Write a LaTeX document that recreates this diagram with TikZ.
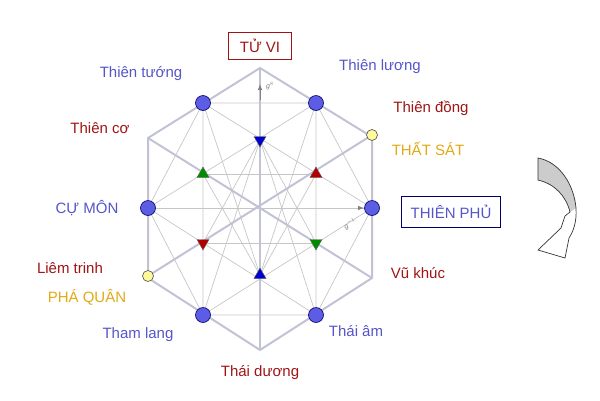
\documentclass[tikz,border=0pt]{standalone}
\usepackage{fontspec}
\setmainfont{Liberation Sans}
\usetikzlibrary{shapes.geometric}
\definecolor{lblue}{RGB}{85,85,200}
\definecolor{lred}{RGB}{160,20,20}
\definecolor{lgold}{RGB}{225,170,20}
\begin{document}
\begin{tikzpicture}[x=1pt,y=-1pt,
 thick line/.style={draw=blue!20!gray!40,line width=2pt},
 thin line/.style={draw=gray!45,line width=0.7pt},
 bdot/.style={circle,draw=blue!40!black,fill=blue!60!white!90!black,minimum size=15pt,inner sep=0,line width=0.6pt},
 ydot/.style={circle,draw=black!70,fill=yellow!40,minimum size=11pt,inner sep=0,line width=0.6pt},
 tri/.style={regular polygon,regular polygon sides=3,minimum size=14pt,inner sep=0,draw=black!60,line width=0.4pt},
 lb/.style={text=lblue,font=\fontsize{15}{17}\selectfont},
 lr/.style={text=lred,font=\fontsize{15}{17}\selectfont},
 ly/.style={text=lgold,font=\fontsize{15}{17}\selectfont}]
\useasboundingbox (0,0) rectangle (600,400);
\coordinate (T) at (260,68); \coordinate (UR) at (372,137); \coordinate (LR) at (372,278);
\coordinate (B) at (260,350); \coordinate (LL) at (148,278); \coordinate (UL) at (148,138);
\coordinate (c1) at (203,103); \coordinate (c2) at (316,103); \coordinate (c3) at (372,208);
\coordinate (c4) at (316,315); \coordinate (c5) at (203,315); \coordinate (c6) at (148,208);
\coordinate (t1) at (260,140); \coordinate (t2) at (260,275);
\coordinate (g1) at (203,174); \coordinate (r1) at (316,174);
\coordinate (r2) at (203,243); \coordinate (g2) at (316,243);
% thin lines
\draw[thin line] (c1)--(c2)--(c3)--(c4)--(c5)--(c6)--cycle;
\draw[thin line] (c1)--(c3)--(c5)--cycle;
\draw[thin line] (c2)--(c6)--(c4)--cycle;
\draw[thin line] (c6)--(c3);
\draw[thin line] (g1)--(r1) (r2)--(g2);
\draw[thin line] (c1)--(t2)--(c2) (c5)--(t1)--(c4);
\draw[thin line] (t1)--(g2) (t1)--(r2) (t2)--(g1) (t2)--(r1);
% thick lines
\draw[thick line] (T)--(UR)--(LR)--(B)--(LL)--(UL)--cycle;
\draw[thick line] (T)--(B);
\draw[thick line] (UL)--(LR);
\coordinate (y1) at (372,135); \coordinate (y2) at (148,276);
\draw[thick line] (y1)--(y2);
% axis arrow labels
\draw[gray,-latex,line width=1pt] (260,100)--(260,84);
\node[text=gray,font=\fontsize{7}{8}\selectfont\itshape] (g8) at (270,86) {g$^8$};
\draw[gray,-latex,line width=1pt] (358,208)--(364,208);
\node[text=gray,font=\fontsize{7}{8}\selectfont\itshape,rotate=30,inner sep=0] (gm) at (350,224) {g$^{-1}$};
% triangles
\node[tri,fill=blue!80!black,shape border rotate=180] (T1) at (t1) {};
\node[tri,fill=blue!80!black] (T2) at (t2) {};
\node[tri,fill=green!55!black] (G1) at (g1) {};
\node[tri,fill=red!70!black] (R1) at (r1) {};
\node[tri,fill=red!70!black,shape border rotate=180] (R2) at (r2) {};
\node[tri,fill=green!55!black,shape border rotate=180] (G2) at (g2) {};
% dots
\foreach \c in {c1,c2,c3,c4,c5,c6} \node[bdot] (d\c) at (\c) {};
\node[ydot] (Y1) at (y1) {};
\node[ydot] (Y2) at (y2) {};
% labels
\node[lr,draw=lred,line width=0.8pt,inner xsep=11pt,minimum height=27pt] (tuvi) at (260,46) {TỬ VI};
\node[lb] (a1) at (141,74) {Thiên tướng};
\node[lb] (a2) at (380,67) {Thiên lương};
\node[lr] (a3) at (431,108) {Thiên đồng};
\node[ly] (a4) at (428,149) {THẤT SÁT};
\node[lr] (a5) at (100,128) {Thiên cơ};
\node[lb] (a6) at (87,208) {CỰ MÔN};
\node[lb,draw=blue!40!black,line width=0.8pt,inner xsep=9pt,minimum height=31pt] (a7) at (451,212) {THIÊN PHỦ};
\node[lr] (a8) at (70,268) {Liêm trinh};
\node[ly] (a9) at (87,297) {PHÁ QUÂN};
\node[lr] (a10) at (418,273) {Vũ khúc};
\node[lb] (a11) at (138,335) {Tham lang};
\node[lb] (a12) at (356,331) {Thái âm};
\node[lr] (a13) at (260,373) {Thái dương};
% curved arrow
\fill[gray!40] (538,158) .. controls (560,162) and (574,185) .. (576,208)
  -- (570,212) .. controls (566,196) and (555,184) .. (538,180) -- cycle;
\draw[black!80,line width=0.7pt]
  (538,158) .. controls (560,162) and (574,185) .. (576,208)
  .. controls (577,222) and (573,232) .. (569,238)
  -- (565,258) -- (538,250) -- (561,228) -- (565,216)
  -- (570,212) .. controls (566,196) and (555,184) .. (538,180) -- cycle;
\end{tikzpicture}
\end{document}
